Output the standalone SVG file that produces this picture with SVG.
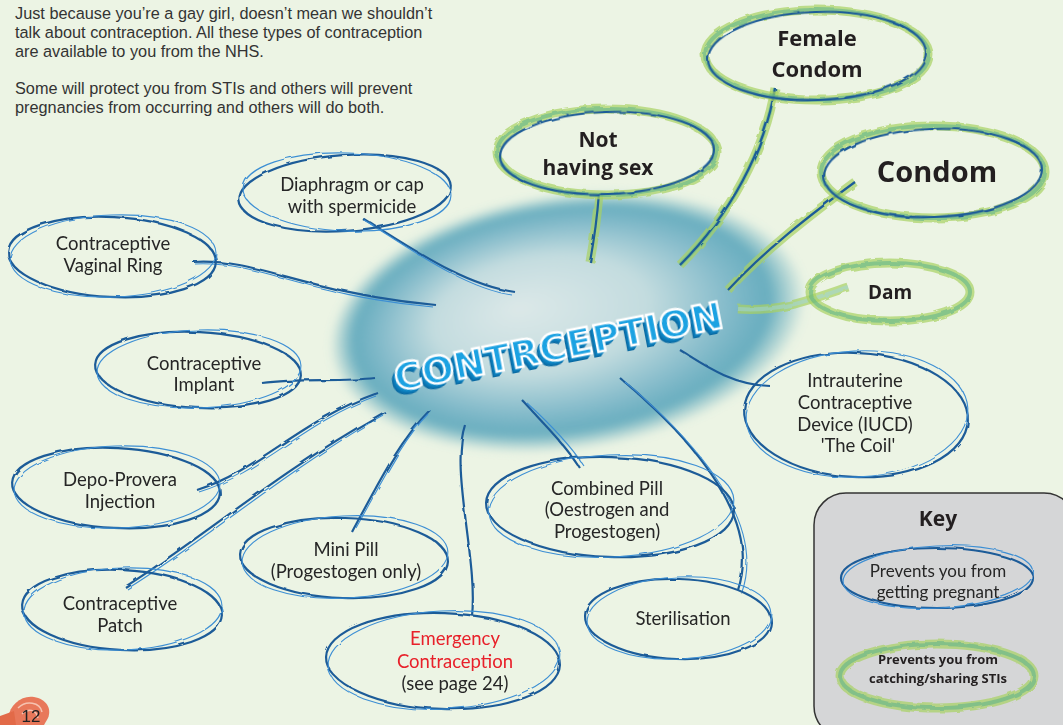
<svg xmlns="http://www.w3.org/2000/svg" width="1063" height="725" viewBox="0 0 1063 725">
<defs>
<radialGradient id="blob" cx="0.5" cy="0.5" r="0.5" fx="0.4" fy="0.42">
<stop offset="0" stop-color="#dce8e8"/>
<stop offset="0.45" stop-color="#c3dcdf"/>
<stop offset="0.72" stop-color="#86bccb"/>
<stop offset="0.87" stop-color="#5aa6bb" stop-opacity="0.9"/>
<stop offset="1" stop-color="#5aa6bb" stop-opacity="0"/>
</radialGradient>
<filter id="wob" x="-10%" y="-10%" width="120%" height="120%">
<feTurbulence type="fractalNoise" baseFrequency="0.06" numOctaves="2" seed="3"/>
<feDisplacementMap in="SourceGraphic" scale="3"/>
</filter>
<filter id="soft" x="-20%" y="-20%" width="140%" height="140%">
<feGaussianBlur stdDeviation="4"/>
</filter>
<filter id="gblur" x="-10%" y="-10%" width="120%" height="120%">
<feTurbulence type="fractalNoise" baseFrequency="0.08" numOctaves="2" seed="7"/>
<feDisplacementMap in="SourceGraphic" scale="4"/>
<feGaussianBlur stdDeviation="0.6"/>
</filter>
<style>
.bl{fill:none;stroke:#1d5b98;stroke-width:2.2}
.bl2{fill:none;stroke:#3d8fd4;stroke-width:1.1}
.gr{fill:none;stroke:#a8d162;stroke-width:9;opacity:0.7}
.gr2{fill:none;stroke:#4fae8c;stroke-width:4;opacity:0.5}
.hw{font-family:"Lato","Noto Sans",sans-serif;font-size:18.5px;fill:#262626;text-anchor:middle}
.bd{font-family:"Open Sans","Noto Sans",sans-serif;font-weight:bold;fill:#231f20;text-anchor:middle}
.intro{font-family:"Liberation Sans",Arial,sans-serif;font-size:16.3px;fill:#333}
.t3{font-family:"DejaVu Sans",sans-serif;font-weight:bold;font-size:38px}
</style>
</defs>
<rect width="1063" height="725" fill="#ecf4e4"/>

<g id="intro-text" class="intro">
<text x="15" y="19">Just because you’re a gay girl, doesn’t mean we shouldn’t</text>
<text x="15" y="38">talk about contraception. All these types of contraception</text>
<text x="15" y="57">are available to you from the NHS.</text>
<text x="15" y="94">Some will protect you from STIs and others will prevent</text>
<text x="15" y="113">pregnancies from occurring and others will do both.</text>
</g>

<g id="center-blob">
<ellipse cx="568" cy="322" rx="240" ry="128" fill="url(#blob)" transform="rotate(-8 568 322)" filter="url(#soft)"/>
</g>

<g id="connectors" filter="url(#wob)">
<path class="gr" d="M775,88 C765,150 730,215 680,265"/>
<path class="gr2" d="M775,88 C765,150 730,215 680,265"/>
<path class="bl" d="M775,88 C765,150 730,215 680,265"/>
<path class="gr" d="M599,193 C597,220 594,240 590,262"/>
<path class="bl" d="M599,193 C597,220 594,240 590,262"/>
<path class="gr" d="M855,182 C810,215 765,250 728,290"/>
<path class="bl" d="M855,182 C810,215 765,250 728,290"/>
<path class="gr" d="M848,287 C810,300 780,312 738,309"/>
<path class="gr2" d="M848,287 C810,300 780,312 738,309" style="stroke:#9fd3e3"/>
<path class="bl" d="M362,218 C400,240 460,285 515,292"/>
<path class="bl2" d="M364,220 C402,243 462,288 512,295"/>
<path class="bl" d="M193,262 C260,258 300,292 436,305"/>
<path class="bl2" d="M195,264 C262,261 302,295 433,307"/>
<path class="bl" d="M262,383 C300,378 340,382 375,378"/>
<path class="bl" d="M197,490 C260,470 300,420 378,393"/>
<path class="bl2" d="M199,492 C262,473 302,423 376,396"/>
<path class="bl" d="M125,587 C200,540 280,470 385,412"/>
<path class="bl2" d="M127,589 C202,543 282,473 383,415"/>
<path class="bl" d="M352,532 C380,480 400,440 430,410"/>
<path class="bl2" d="M356,528 C384,478 404,438 428,414"/>
<path class="bl" d="M472,616 C478,560 450,470 465,425"/>
<path class="bl" d="M580,468 C565,445 545,425 522,400"/>
<path class="bl2" d="M584,466 C569,443 549,423 526,402"/>
<path class="bl" d="M738,590 C755,540 730,470 620,378"/>
<path class="bl2" d="M742,592 C759,543 734,473 624,381"/>
<path class="bl" d="M770,386 C730,385 700,362 680,350"/>
</g>

<g id="title" transform="rotate(-11 550 345)">
<text class="t3" x="386" y="366" textLength="334" fill="#0a6aa2">CONTRCEPTION</text>
<text class="t3" x="387" y="365" textLength="334" fill="#0b74b0">CONTRCEPTION</text>
<text class="t3" x="388" y="364" textLength="334" fill="#0d7fbd">CONTRCEPTION</text>
<text class="t3" x="389" y="363" textLength="334" fill="#108ac8">CONTRCEPTION</text>
<text class="t3" x="390" y="362" textLength="334" fill="#1296d6">CONTRCEPTION</text>
<text class="t3" x="391" y="361" textLength="334" fill="#1ca2e2" stroke="#ffffff" stroke-width="2.4">CONTRCEPTION</text>
</g>

<g id="female-condom">
<g filter="url(#gblur)"><ellipse class="gr" cx="817" cy="55" rx="112" ry="45"/><ellipse class="gr2" cx="817" cy="55" rx="112" ry="45"/></g>
<ellipse class="bl" cx="817" cy="56" rx="109" ry="44" filter="url(#wob)" transform="rotate(-2 817 56)"/>
<text class="bd" x="817" y="46" font-size="22">Female</text>
<text class="bd" x="817" y="77" font-size="22">Condom</text>
</g>

<g id="not-having-sex">
<g filter="url(#gblur)"><ellipse class="gr" cx="607" cy="152" rx="110" ry="43"/><ellipse class="gr2" cx="607" cy="152" rx="110" ry="43"/></g>
<ellipse class="bl" cx="607" cy="153" rx="107" ry="41" filter="url(#wob)" transform="rotate(-2 607 153)"/>
<text class="bd" x="598" y="147" font-size="21">Not</text>
<text class="bd" x="598" y="175" font-size="21">having sex</text>
</g>

<g id="condom">
<g filter="url(#gblur)"><ellipse class="gr" cx="933" cy="172" rx="112" ry="46"/><ellipse class="gr2" cx="933" cy="172" rx="112" ry="46"/></g>
<ellipse class="bl" cx="933" cy="173" rx="109" ry="44" filter="url(#wob)" transform="rotate(-2 933 173)"/>
<text class="bd" x="937" y="182" font-size="29">Condom</text>
</g>

<g id="dam">
<g filter="url(#gblur)"><ellipse class="gr" cx="890" cy="292" rx="80" ry="29"/><ellipse class="gr2" cx="890" cy="292" rx="80" ry="29"/></g>
<text class="bd" x="890" y="299" font-size="19">Dam</text>
</g>

<g id="diaphragm">
<g filter="url(#wob)"><ellipse class="bl" cx="345" cy="193" rx="106" ry="38" transform="rotate(-4 345 193)"/><ellipse class="bl2" cx="347" cy="192" rx="104" ry="39" transform="rotate(2 347 192)"/></g>
<text class="hw" x="352" y="191">Diaphragm or cap</text>
<text class="hw" x="352" y="213">with spermicide</text>
</g>

<g id="vaginal-ring">
<g filter="url(#wob)"><ellipse class="bl" cx="112" cy="257" rx="104" ry="40" transform="rotate(3 112 257)"/><ellipse class="bl2" cx="113" cy="256" rx="103" ry="41" transform="rotate(-2 113 256)"/></g>
<text class="hw" x="113" y="250">Contraceptive</text>
<text class="hw" x="113" y="272">Vaginal Ring</text>
</g>

<g id="implant">
<g filter="url(#wob)"><ellipse class="bl" cx="198" cy="370" rx="103" ry="38" transform="rotate(3 198 370)"/><ellipse class="bl2" cx="199" cy="369" rx="102" ry="39" transform="rotate(-2 199 369)"/></g>
<text class="hw" x="204" y="370">Contraceptive</text>
<text class="hw" x="204" y="391">Implant</text>
</g>

<g id="depo-provera">
<g filter="url(#wob)"><ellipse class="bl" cx="116" cy="488" rx="104" ry="40" transform="rotate(3 116 488)"/><ellipse class="bl2" cx="117" cy="487" rx="103" ry="41" transform="rotate(-2 117 487)"/></g>
<text class="hw" x="120" y="486">Depo-Provera</text>
<text class="hw" x="120" y="508">Injection</text>
</g>

<g id="patch">
<g filter="url(#wob)"><ellipse class="bl" cx="122" cy="610" rx="100" ry="40" transform="rotate(3 122 610)"/><ellipse class="bl2" cx="123" cy="609" rx="99" ry="41" transform="rotate(-2 123 609)"/></g>
<text class="hw" x="120" y="610">Contraceptive</text>
<text class="hw" x="120" y="632">Patch</text>
</g>

<g id="mini-pill">
<g filter="url(#wob)"><ellipse class="bl" cx="344" cy="558" rx="104" ry="40" transform="rotate(2 344 558)"/><ellipse class="bl2" cx="345" cy="557" rx="103" ry="41" transform="rotate(-3 345 557)"/></g>
<text class="hw" x="346" y="556">Mini Pill</text>
<text class="hw" x="346" y="578">(Progestogen only)</text>
</g>

<g id="emergency">
<g filter="url(#wob)"><ellipse class="bl" cx="443" cy="661" rx="117" ry="48" transform="rotate(2 443 661)"/><ellipse class="bl2" cx="444" cy="660" rx="116" ry="49" transform="rotate(-3 444 660)"/></g>
<text class="hw" x="455" y="645" style="fill:#e8202a">Emergency</text>
<text class="hw" x="455" y="668" style="fill:#e8202a">Contraception</text>
<text class="hw" x="455" y="690">(see page 24)</text>
</g>

<g id="combined-pill">
<g filter="url(#wob)"><ellipse class="bl" cx="610" cy="507" rx="124" ry="50" transform="rotate(2 610 507)"/><ellipse class="bl2" cx="611" cy="506" rx="123" ry="51" transform="rotate(-3 611 506)"/></g>
<text class="hw" x="607" y="495">Combined Pill</text>
<text class="hw" x="607" y="516">(Oestrogen and</text>
<text class="hw" x="607" y="538">Progestogen)</text>
</g>

<g id="sterilisation">
<g filter="url(#wob)"><ellipse class="bl" cx="678" cy="619" rx="93" ry="40" transform="rotate(2 678 619)"/><ellipse class="bl2" cx="679" cy="618" rx="92" ry="41" transform="rotate(-3 679 618)"/></g>
<text class="hw" x="683" y="625">Sterilisation</text>
</g>

<g id="iucd">
<g filter="url(#wob)"><ellipse class="bl" cx="856" cy="415" rx="112" ry="62" transform="rotate(3 856 415)"/><ellipse class="bl2" cx="857" cy="414" rx="111" ry="63" transform="rotate(-3 857 414)"/></g>
<text class="hw" x="855" y="387">Intrauterine</text>
<text class="hw" x="855" y="409">Contraceptive</text>
<text class="hw" x="855" y="431">Device (IUCD)</text>
<text class="hw" x="858" y="452">'The Coil'</text>
</g>

<g id="key">
<rect x="814" y="493" width="262" height="245" rx="32" fill="#d5d6d7" stroke="#333" stroke-width="1.5"/>
<text class="bd" x="938" y="526" font-size="21">Key</text>
<g filter="url(#wob)">
<ellipse class="bl" cx="937" cy="578" rx="96" ry="30"/>
<ellipse class="bl2" cx="938" cy="577" rx="95" ry="31" transform="rotate(-3 938 577)"/>
</g>
<text class="hw" x="938" y="577" style="font-size:17px">Prevents you from</text>
<text class="hw" x="938" y="598" style="font-size:17px">getting pregnant</text>
<g filter="url(#gblur)"><ellipse class="gr" cx="937" cy="676" rx="97" ry="32"/><ellipse class="gr2" cx="937" cy="676" rx="97" ry="32"/></g>
<text class="bd" x="938" y="664" font-size="13">Prevents you from</text>
<text class="bd" x="938" y="683" font-size="13">catching/sharing STIs</text>
</g>

<g id="page-number">
<path d="M8,718 C10,704 22,695 34,697 C46,699 52,708 48,718 L44,725 L8,725 Z" fill="#e8785a"/>
<path d="M18,708 C26,700 40,702 42,712 M22,714 C28,708 36,709 38,718" fill="none" stroke="#f6c2b0" stroke-width="1.5"/>
<path d="M0,716 L14,711 L16,725 L0,725 Z" fill="#e26a48"/>
<text x="31" y="722" font-family="Liberation Sans,Arial,sans-serif" font-size="17" fill="#222" text-anchor="middle">12</text>
</g>
</svg>
